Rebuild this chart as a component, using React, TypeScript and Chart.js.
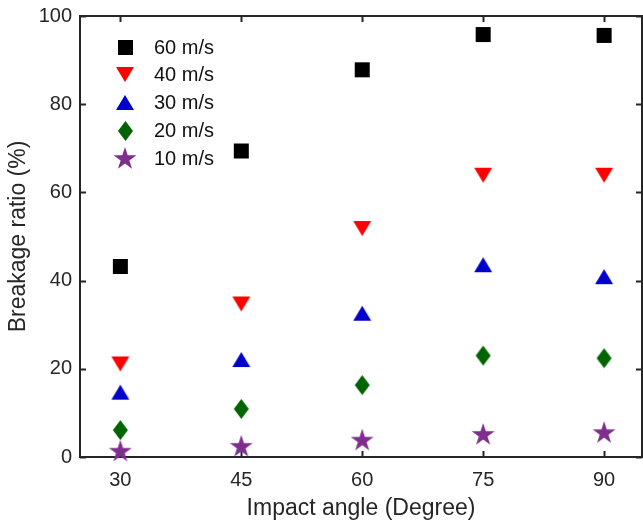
import React, { useEffect, useRef } from "react";
import { Chart, registerables } from "chart.js";

Chart.register(...registerables);

// Impact angles (degrees) and breakage ratio (%) per impact velocity
const impactAngles = [30, 45, 60, 75, 90];
const xTickValues = [30, 45, 60, 75, 90];
const yTickValues = [0, 20, 40, 60, 80, 100];

const speed60 = [43.2, 69.4, 87.8, 95.8, 95.6];
const speed40 = [21.1, 34.7, 51.8, 63.9, 63.9];
const speed30 = [14.7, 22.1, 32.6, 43.6, 40.9];
const speed20 = [6.1, 10.9, 16.3, 23.0, 22.4];
const speed10 = [1.2, 2.3, 3.7, 5.0, 5.4];

const seriesLabels = ["60 m/s", "40 m/s", "30 m/s", "20 m/s", "10 m/s"];

const FONT = '"Liberation Sans", Arial, Helvetica, sans-serif';
const AXIS_COLOR = "#262626";

type Shape = "square" | "down" | "up" | "diamond" | "star";

function makeMarker(shape: Shape, color: string): HTMLCanvasElement {
  const c = document.createElement("canvas");
  let w = 17;
  let h = 17;
  if (shape === "down" || shape === "up") { w = 20; h = 17; }
  if (shape === "diamond") { w = 17; h = 22; }
  if (shape === "star") { w = 26; h = 26; }
  c.width = w;
  c.height = h;
  const ctx = c.getContext("2d")!;
  ctx.fillStyle = color;
  ctx.beginPath();
  if (shape === "square") {
    ctx.rect(1, 1, 15, 15);
  } else if (shape === "down") {
    ctx.moveTo(1, 1); ctx.lineTo(19, 1); ctx.lineTo(10, 16);
  } else if (shape === "up") {
    ctx.moveTo(1, 16); ctx.lineTo(19, 16); ctx.lineTo(10, 1);
  } else if (shape === "diamond") {
    ctx.moveTo(8.5, 1); ctx.lineTo(16, 11); ctx.lineTo(8.5, 21); ctx.lineTo(1, 11);
  } else {
    const R = 12;
    const r = R * 0.382;
    for (let i = 0; i < 10; i++) {
      const a = -Math.PI / 2 + (i * Math.PI) / 5;
      const rad = i % 2 === 0 ? R : r;
      const px = 13 + rad * Math.cos(a);
      const py = 13 + rad * Math.sin(a);
      if (i === 0) ctx.moveTo(px, py); else ctx.lineTo(px, py);
    }
  }
  ctx.closePath();
  ctx.fill();
  return c;
}

// Box frame with inward tick marks on all four sides
const framePlugin = {
  id: "frame",
  beforeDatasetsDraw(chart: any) {
    const { ctx, chartArea } = chart;
    const { left, right, top, bottom } = chartArea;
    const xs = chart.scales.x;
    const ys = chart.scales.y;
    const tl = 6;
    ctx.save();
    ctx.strokeStyle = AXIS_COLOR;
    ctx.lineWidth = 2;
    ctx.strokeRect(left, top, right - left, bottom - top);
    ctx.beginPath();
    xTickValues.forEach((v) => {
      const px = Math.round(xs.getPixelForValue(v)) + 0.5;
      ctx.moveTo(px, bottom); ctx.lineTo(px, bottom - tl);
      ctx.moveTo(px, top); ctx.lineTo(px, top + tl);
    });
    yTickValues.forEach((v) => {
      const py = Math.round(ys.getPixelForValue(v)) + 0.5;
      ctx.moveTo(left, py); ctx.lineTo(left + tl, py);
      ctx.moveTo(right, py); ctx.lineTo(right - tl, py);
    });
    ctx.stroke();
    ctx.restore();
  },
};

// Legend drawn inside the plot, upper-left corner
const insideLegend = {
  id: "insideLegend",
  afterDraw(chart: any) {
    const { ctx, chartArea } = chart;
    ctx.save();
    ctx.font = `20px ${FONT}`;
    ctx.fillStyle = "#111";
    ctx.textBaseline = "middle";
    ctx.textAlign = "left";
    chart.data.datasets.forEach((ds: any, i: number) => {
      const cy = chartArea.top + 31 + i * 27.9;
      const cx = chartArea.left + 45;
      const img = ds.pointStyle as HTMLCanvasElement;
      ctx.drawImage(img, Math.round(cx - img.width / 2), Math.round(cy - img.height / 2));
      ctx.fillText(ds.label, chartArea.left + 74, cy + 1);
    });
    ctx.restore();
  },
};

const noPadding = (s: any) => {
  s.paddingTop = 0;
  s.paddingBottom = 0;
  s.paddingLeft = 0;
  s.paddingRight = 0;
};

export default function App() {
  const canvasRef = useRef<HTMLCanvasElement | null>(null);

  useEffect(() => {
    if (!canvasRef.current) return;
    const toPoints = (vals: number[]) => impactAngles.map((x, i) => ({ x, y: vals[i] }));
    const styles: [number[], Shape, string][] = [
      [speed60, "square", "#000000"],
      [speed40, "down", "#ff0000"],
      [speed30, "up", "#0000cd"],
      [speed20, "diamond", "#006400"],
      [speed10, "star", "#7e2f8e"],
    ];
    const datasets = styles.map(([vals, shape, color], i) => ({
      label: seriesLabels[i],
      data: toPoints(vals),
      pointStyle: makeMarker(shape, color),
      pointRadius: 8,
      backgroundColor: color,
      borderColor: color,
      showLine: false,
      clip: false as any,
    }));

    const chart = new Chart(canvasRef.current, {
      type: "scatter",
      data: { datasets },
      plugins: [framePlugin, insideLegend],
      options: {
        animation: false,
        responsive: false,
        layout: { autoPadding: false, padding: { left: 0, right: 1, top: 16, bottom: 0 } },
        plugins: { legend: { display: false }, tooltip: { enabled: false } },
        scales: {
          x: {
            type: "linear",
            min: 25,
            max: 94.7,
            afterBuildTicks: (s: any) => { s.ticks = xTickValues.map((v) => ({ value: v })); },
            afterFit: (s: any) => { s.height = 66; noPadding(s); },
            grid: { display: false, drawTicks: false },
            border: { display: false },
            ticks: {
              color: AXIS_COLOR,
              font: { family: FONT, size: 20 },
              padding: 11,
              maxRotation: 0,
            },
            title: {
              display: true,
              text: "Impact angle (Degree)",
              color: AXIS_COLOR,
              font: { family: FONT, size: 23 },
              padding: { top: 0, bottom: 1 },
            },
          },
          y: {
            type: "linear",
            min: 0,
            max: 100,
            afterBuildTicks: (s: any) => { s.ticks = yTickValues.map((v) => ({ value: v })); },
            afterFit: (s: any) => { s.width = 80; noPadding(s); },
            grid: { display: false, drawTicks: false },
            border: { display: false },
            ticks: {
              color: AXIS_COLOR,
              font: { family: FONT, size: 20 },
              padding: 8,
            },
            title: {
              display: true,
              text: "Breakage ratio (%)",
              color: AXIS_COLOR,
              font: { family: FONT, size: 23 },
              padding: { top: 5, bottom: 0 },
            },
          },
        },
      },
    });
    return () => chart.destroy();
  }, []);

  return (
    <canvas
      ref={canvasRef}
      width={643}
      height={523}
      style={{ position: "absolute", left: 0, top: 0, display: "block" }}
    />
  );
}
